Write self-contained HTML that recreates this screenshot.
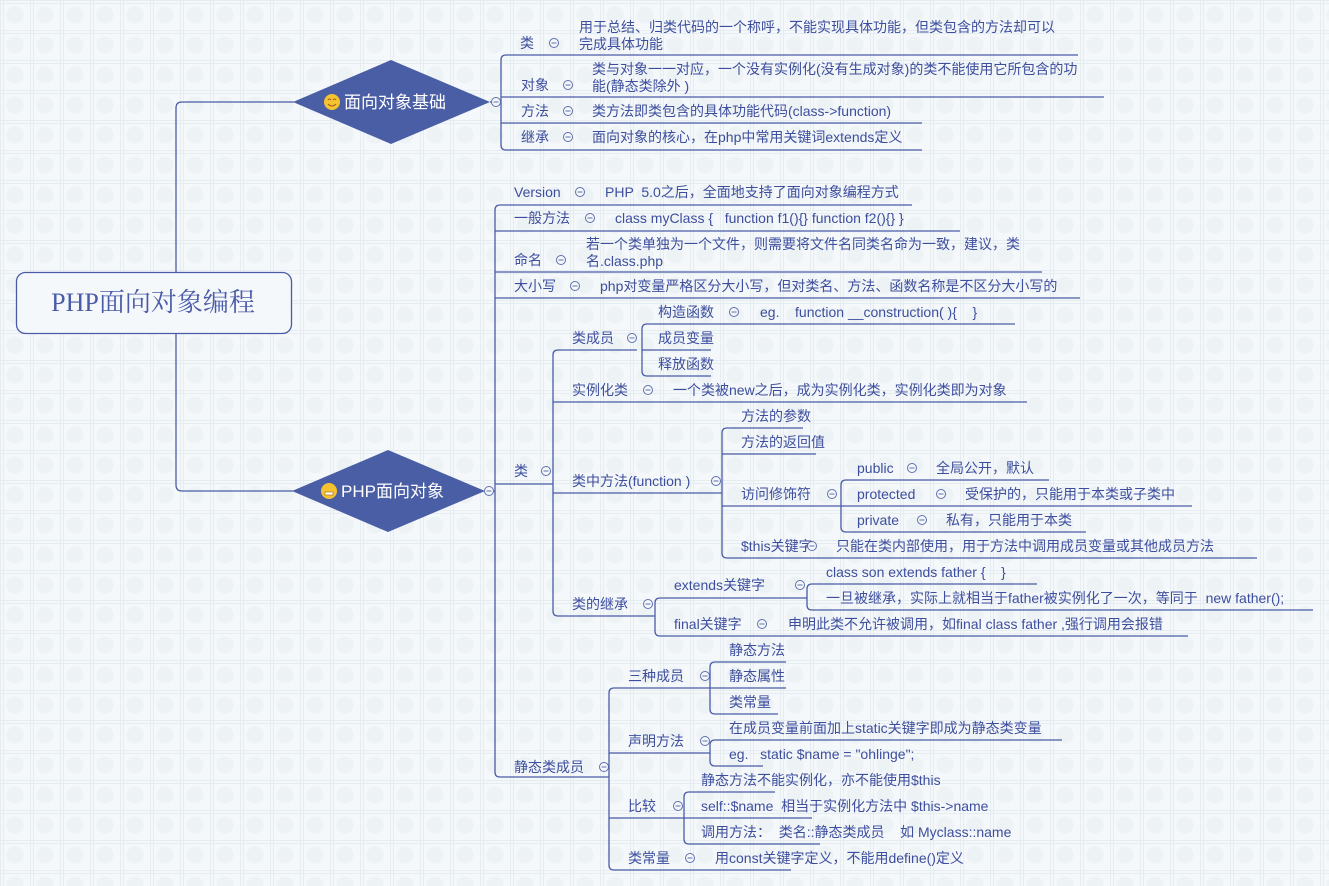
<!DOCTYPE html>
<html><head><meta charset="utf-8">
<style>
html,body{margin:0;padding:0;}
body{width:1329px;height:886px;overflow:hidden;
background-color:#f5f8fa;
background-image:
 radial-gradient(circle at 15px 15px,#edf2f5 0,#edf2f5 8px,transparent 9px),
 linear-gradient(#e6edf1 1px,transparent 1px),linear-gradient(90deg,#e6edf1 1px,transparent 1px),
 linear-gradient(#e6edf1 1px,transparent 1px),linear-gradient(90deg,#e6edf1 1px,transparent 1px);
background-size:30px 30px,30px 30px,30px 30px,30px 30px,30px 30px;
background-position:0 0,0 0,0 0,0 3px,3px 0;}
svg{position:absolute;left:0;top:0;}
text{font-family:"Liberation Sans","Noto Sans CJK SC",sans-serif;font-size:14px;fill:#3d4e9e;white-space:pre;}
.l{stroke:#4a5ca8;stroke-width:1.3;fill:none;}
.c{stroke:#6070b0;stroke-width:1;fill:#f5f8fa;}
</style></head><body>
<svg width="1329" height="886" viewBox="0 0 1329 886" xmlns="http://www.w3.org/2000/svg" xml:space="preserve">
<defs>
<g id="cc"><circle cx="0" cy="0" r="4.5" class="c"/><line x1="-2.5" y1="0" x2="2.5" y2="0" stroke="#6070b0" stroke-width="1"/></g>
</defs>
<path class="l" d="M176 272 V108 Q176 102 182 102 H294"/>
<path class="l" d="M176 333 V485 Q176 491 182 491 H293"/>
<rect x="16.5" y="272.5" width="275" height="61" rx="9" fill="#f5f8fa" stroke="#4a5ca8" stroke-width="1.3"/>
<text x="153" y="311" text-anchor="middle" style="font-family:'Liberation Serif','Noto Serif CJK SC',serif;font-size:26px;fill:#4a5ba8">PHP面向对象编程</text>

<polygon points="293,102 391,60 490,102 391,144" fill="#4a5ea6"/>
<circle cx="332" cy="102" r="8" fill="#f5c330"/>
<path d="M328 100 q1.5 -2 3 0 M333 100 q1.5 -2 3 0 M328 104 q4 4 8 0" stroke="#a0601a" stroke-width="1" fill="none"/>
<text x="344" y="108" style="font-size:17px;fill:#fff">面向对象基础</text>
<polygon points="292,491 388,450 485,491 388,532" fill="#4a5ea6"/>
<circle cx="329" cy="491" r="8" fill="#f5c330"/>
<rect x="325" y="492" width="8" height="3" fill="#fff" stroke="#a0601a" stroke-width="0.6"/>
<text x="341" y="497" style="font-size:17px;fill:#fff">PHP面向对象</text>

<path class="l" d="M490 102 H501"/>
<path class="l" d="M1078 55 H506 Q501 55 501 60 V145 Q501 150 506 150 H922"/>
<path class="l" d="M501 97 H1104 M501 123 H922"/>
<use href="#cc" x="496" y="102"/>
<text x="520" y="48">类</text><use href="#cc" x="554" y="43"/>
<text x="579" y="32">用于总结、归类代码的一个称呼，不能实现具体功能，但类包含的方法却可以</text>
<text x="579" y="49">完成具体功能</text>
<text x="521" y="90">对象</text><use href="#cc" x="568" y="85"/>
<text x="592" y="74">类与对象一一对应，一个没有实例化(没有生成对象)的类不能使用它所包含的功</text>
<text x="592" y="91">能(静态类除外 )</text>
<text x="521" y="116">方法</text><use href="#cc" x="568" y="111"/>
<text x="592" y="116">类方法即类包含的具体功能代码(class-&gt;function)</text>
<text x="521" y="142">继承</text><use href="#cc" x="568" y="137"/>
<text x="592" y="142">面向对象的核心，在php中常用关键词extends定义</text>

<path class="l" d="M485 491 H495"/>
<path class="l" d="M912 205 H500 Q495 205 495 210 V772 Q495 777 500 777 H609"/>
<path class="l" d="M495 231 H960 M495 272 H1042 M495 298 H1080 M495 484 H553"/>
<use href="#cc" x="489" y="491"/>
<text x="514" y="197">Version</text><use href="#cc" x="580" y="192"/>
<text x="605" y="197">PHP  5.0之后，全面地支持了面向对象编程方式</text>
<text x="514" y="223">一般方法</text><use href="#cc" x="590" y="218"/>
<text x="615" y="223">class myClass {   function f1(){} function f2(){} }</text>
<text x="514" y="265">命名</text><use href="#cc" x="561" y="260"/>
<text x="586" y="249">若一个类单独为一个文件，则需要将文件名同类名命为一致，建议，类</text>
<text x="586" y="266">名.class.php</text>
<text x="514" y="291">大小写</text><use href="#cc" x="575" y="286"/>
<text x="600" y="291">php对变量严格区分大小写，但对类名、方法、函数名称是不区分大小写的</text>
<text x="514" y="476">类</text><use href="#cc" x="546" y="471"/>
<text x="514" y="772">静态类成员</text><use href="#cc" x="604" y="767"/>

<path class="l" d="M637 350 H558 Q553 350 553 355 V611 Q553 616 558 616 H655"/>
<path class="l" d="M553 402 H1027 M553 493 H722"/>
<text x="572" y="343">类成员</text><use href="#cc" x="632" y="338"/>
<path class="l" d="M1015 324 H647 Q642 324 642 329 V371 Q642 376 647 376 H711 M642 350 H711"/>
<text x="658" y="317">构造函数</text><use href="#cc" x="734" y="312"/>
<text x="760" y="317">eg.    function __construction( ){    }</text>
<text x="658" y="343">成员变量</text>
<text x="658" y="369">释放函数</text>
<text x="572" y="395">实例化类</text><use href="#cc" x="648" y="390"/>
<text x="673" y="395">一个类被new之后，成为实例化类，实例化类即为对象</text>
<text x="572" y="486">类中方法(function )</text><use href="#cc" x="716" y="481"/>
<path class="l" d="M803 428 H727 Q722 428 722 433 V553 Q722 558 727 558 H1257 M722 454 H816 M722 506 H841"/>
<text x="741" y="421">方法的参数</text>
<text x="741" y="447">方法的返回值</text>
<text x="741" y="499">访问修饰符</text><use href="#cc" x="832" y="494"/>
<path class="l" d="M1049 480 H846 Q841 480 841 485 V527 Q841 532 846 532 H1086 M841 506 H1192"/>
<text x="857" y="473">public</text><use href="#cc" x="912" y="468"/>
<text x="936" y="473">全局公开，默认</text>
<text x="857" y="499">protected</text><use href="#cc" x="941" y="494"/>
<text x="965" y="499">受保护的，只能用于本类或子类中</text>
<text x="857" y="525">private</text><use href="#cc" x="922" y="520"/>
<text x="946" y="525">私有，只能用于本类</text>
<text x="741" y="551">$this关键字</text><use href="#cc" x="812" y="546"/>
<text x="836" y="551">只能在类内部使用，用于方法中调用成员变量或其他成员方法</text>
<text x="572" y="609">类的继承</text><use href="#cc" x="648" y="604"/>
<path class="l" d="M807 598 H660 Q655 598 655 603 V631 Q655 636 660 636 H1188"/>
<text x="674" y="590">extends关键字</text><use href="#cc" x="800" y="585"/>
<path class="l" d="M1037 584 H812 Q807 584 807 589 V605 Q807 610 812 610 H1313"/>
<text x="826" y="577">class son extends father {    }</text>
<text x="826" y="603">一旦被继承，实际上就相当于father被实例化了一次，等同于  new father();</text>
<text x="674" y="629">final关键字</text><use href="#cc" x="762" y="624"/>
<text x="788" y="629">申明此类不允许被调用，如final class father ,强行调用会报错</text>

<path class="l" d="M710 688 H614 Q609 688 609 693 V865 Q609 870 614 870 H791 M609 753 H710 M609 818 H684"/>
<text x="628" y="681">三种成员</text><use href="#cc" x="705" y="676"/>
<path class="l" d="M786 662 H715 Q710 662 710 667 V709 Q710 714 715 714 H778 M710 688 H786"/>
<text x="729" y="655">静态方法</text>
<text x="729" y="681">静态属性</text>
<text x="729" y="707">类常量</text>
<text x="628" y="746">声明方法</text><use href="#cc" x="705" y="741"/>
<path class="l" d="M1062 740 H715 Q710 740 710 745 V761 Q710 766 715 766 H763"/>
<text x="729" y="733">在成员变量前面加上static关键字即成为静态类变量</text>
<text x="729" y="759">eg.   static $name = "ohlinge";</text>
<text x="628" y="811">比较</text><use href="#cc" x="678" y="806"/>
<path class="l" d="M775 792 H689 Q684 792 684 797 V839 Q684 844 689 844 H820 M684 818 H812"/>
<text x="701" y="785">静态方法不能实例化，亦不能使用$this</text>
<text x="701" y="811">self::$name  相当于实例化方法中 $this-&gt;name</text>
<text x="701" y="837">调用方法：  类名::静态类成员    如 Myclass::name</text>
<text x="628" y="863">类常量</text><use href="#cc" x="690" y="858"/>
<text x="715" y="863">用const关键字定义，不能用define()定义</text>
</svg>
</body></html>
